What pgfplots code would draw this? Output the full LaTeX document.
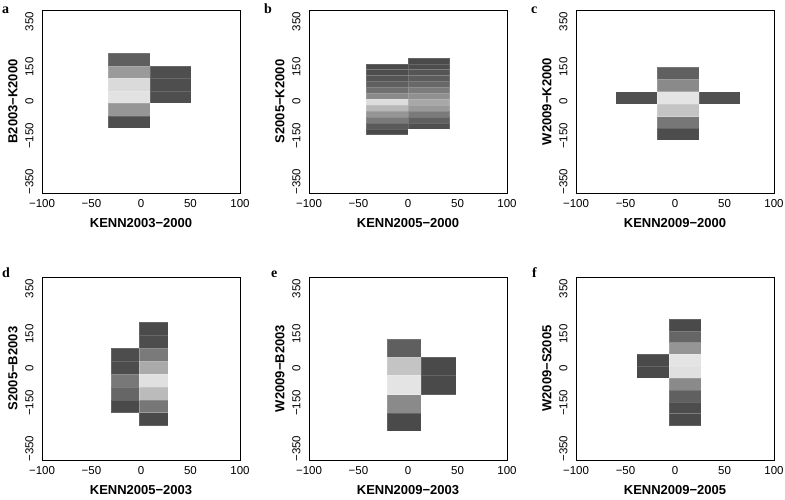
\documentclass[border=0pt]{standalone}
\usepackage{fontspec}
\setmainfont{Liberation Sans}
\newfontfamily\letterfont{Liberation Serif}
\usepackage{pgfplots}
\pgfplotsset{compat=1.18}

% one grey cell: x0 x1 y0 y1 grey(0-255)
\newcommand{\cell}[5]{%
  \addplot[fill={rgb,255:red,#5;green,#5;blue,#5}, draw=white, draw opacity=0.15, line width=0.4pt]
    coordinates {(#1,#3) (#2,#3) (#2,#4) (#1,#4)} -- cycle;}

\pgfplotsset{panel/.style={
  anchor=south west, scale only axis, width=198pt, height=183pt,
  xmin=-100, xmax=100, ymin=-400, ymax=400,
  xtick={-100,-50,0,50,100}, xticklabels={−100,−50,0,50,100},
  ytick={-350,-150,0,150,350}, yticklabels={−350,−150,0,150,350},
  major tick length=0pt,
  axis line style={line width=0.9pt},
  tick label style={font=\fontsize{11.5}{13}\selectfont},
  xticklabel style={anchor=north, inner sep=0pt, outer sep=6pt},
  yticklabel style={rotate=90, anchor=south, inner sep=0pt, outer sep=8.5pt},
  label style={font=\fontsize{13}{15}\selectfont\bfseries},
  xlabel style={at={(axis description cs:0.5,-0.164)}, anchor=center},
  ylabel style={at={(axis description cs:-0.1465,0.5)}, anchor=center},
}}

\begin{document}
\begin{tikzpicture}
\path[use as bounding box] (0,0) rectangle (785pt,500pt);

% a
\begin{axis}[panel, at={(42pt,307pt)}, xlabel={KENN2003−2000}, ylabel={B2003−K2000}]
\cell{-33}{9}{155.5}{210}{95}
\cell{-33}{9}{101}{155.5}{154}
\cell{-33}{9}{46.5}{101}{218}
\cell{-33}{9}{-8}{46.5}{226}
\cell{-33}{9}{-62.5}{-8}{150}
\cell{-33}{9}{-117}{-62.5}{78}
\cell{9}{50.5}{101}{155.5}{78}
\cell{9}{50.5}{46.5}{101}{78}
\cell{9}{50.5}{-8}{46.5}{78}
\end{axis}

% b
\begin{axis}[panel, at={(309pt,307pt)}, xlabel={KENN2005−2000}, ylabel={S2005−K2000}]
\cell{-42}{0}{139.2}{165}{74}
\cell{-42}{0}{113.3}{139.2}{77}
\cell{-42}{0}{87.5}{113.3}{85}
\cell{-42}{0}{61.7}{87.5}{96}
\cell{-42}{0}{35.8}{61.7}{112}
\cell{-42}{0}{10}{35.8}{138}
\cell{-42}{0}{-15.8}{10}{220}
\cell{-42}{0}{-41.7}{-15.8}{184}
\cell{-42}{0}{-67.5}{-41.7}{149}
\cell{-42}{0}{-93.3}{-67.5}{122}
\cell{-42}{0}{-119.2}{-93.3}{90}
\cell{-42}{0}{-145}{-119.2}{74}
\cell{0}{42}{165.2}{191}{74}
\cell{0}{42}{139.3}{165.2}{77}
\cell{0}{42}{113.5}{139.3}{85}
\cell{0}{42}{87.7}{113.5}{92}
\cell{0}{42}{61.8}{87.7}{104}
\cell{0}{42}{36}{61.8}{124}
\cell{0}{42}{10.2}{36}{144}
\cell{0}{42}{-15.7}{10.2}{168}
\cell{0}{42}{-41.5}{-15.7}{154}
\cell{0}{42}{-67.3}{-41.5}{122}
\cell{0}{42}{-93.2}{-67.3}{96}
\cell{0}{42}{-119}{-93.2}{80}
\end{axis}

% c
\begin{axis}[panel, at={(576pt,307pt)}, xlabel={KENN2009−2000}, ylabel={W2009−K2000}]
\cell{-18}{24}{97}{150}{96}
\cell{-18}{24}{43}{97}{138}
\cell{-18}{24}{-11}{43}{228}
\cell{-18}{24}{-66}{-11}{196}
\cell{-18}{24}{-117}{-66}{119}
\cell{-18}{24}{-168}{-117}{77}
\cell{-60}{-18}{-11}{43}{80}
\cell{24}{66}{-11}{43}{80}
\end{axis}

% d
\begin{axis}[panel, at={(42pt,40pt)}, xlabel={KENN2005−2003}, ylabel={S2005−B2003}]
\cell{-1.7}{27}{145.6}{202}{74}
\cell{-1.7}{27}{89.1}{145.6}{77}
\cell{-1.7}{27}{32.7}{89.1}{122}
\cell{-1.7}{27}{-23.7}{32.7}{170}
\cell{-1.7}{27}{-80.1}{-23.7}{224}
\cell{-1.7}{27}{-136.6}{-80.1}{187}
\cell{-1.7}{27}{-193}{-136.6}{119}
\cell{-1.7}{27}{-249.4}{-193}{74}
\cell{-30.3}{-1.7}{32.7}{89.1}{77}
\cell{-30.3}{-1.7}{-23.7}{32.7}{77}
\cell{-30.3}{-1.7}{-80.1}{-23.7}{120}
\cell{-30.3}{-1.7}{-136.6}{-80.1}{102}
\cell{-30.3}{-1.7}{-193}{-136.6}{74}
\end{axis}

% e
\begin{axis}[panel, at={(309pt,40pt)}, xlabel={KENN2009−2003}, ylabel={W2009−B2003}]
\cell{-21.5}{13.1}{49.6}{130}{95}
\cell{-21.5}{13.1}{-30.6}{49.6}{196}
\cell{-21.5}{13.1}{-114}{-30.6}{228}
\cell{-21.5}{13.1}{-195}{-114}{138}
\cell{-21.5}{13.1}{-275}{-195}{74}
\cell{13.1}{48.2}{-30.6}{49.6}{74}
\cell{13.1}{48.2}{-114}{-30.6}{74}
\end{axis}

% f
\begin{axis}[panel, at={(576pt,40pt)}, xlabel={KENN2009−2005}, ylabel={W2009−S2005}]
\cell{-6.1}{26.3}{165.2}{217}{74}
\cell{-6.1}{26.3}{113.4}{165.2}{102}
\cell{-6.1}{26.3}{61.6}{113.4}{149}
\cell{-6.1}{26.3}{9.8}{61.6}{228}
\cell{-6.1}{26.3}{-42}{9.8}{224}
\cell{-6.1}{26.3}{-93.8}{-42}{138}
\cell{-6.1}{26.3}{-145.6}{-93.8}{96}
\cell{-6.1}{26.3}{-197.4}{-145.6}{77}
\cell{-6.1}{26.3}{-249.2}{-197.4}{74}
\cell{-38.7}{-6.1}{9.8}{61.6}{74}
\cell{-38.7}{-6.1}{-42}{9.8}{74}
\end{axis}

\begin{scope}[every node/.style={anchor=base west, inner sep=0pt, font=\letterfont\bfseries\fontsize{14}{16}\selectfont}]
\node at (2pt,486pt) {a};
\node at (264pt,486pt) {b};
\node at (531pt,486pt) {c};
\node at (2pt,222pt) {d};
\node at (271pt,222pt) {e};
\node at (532pt,222pt) {f};
\end{scope}
\end{tikzpicture}
\end{document}
